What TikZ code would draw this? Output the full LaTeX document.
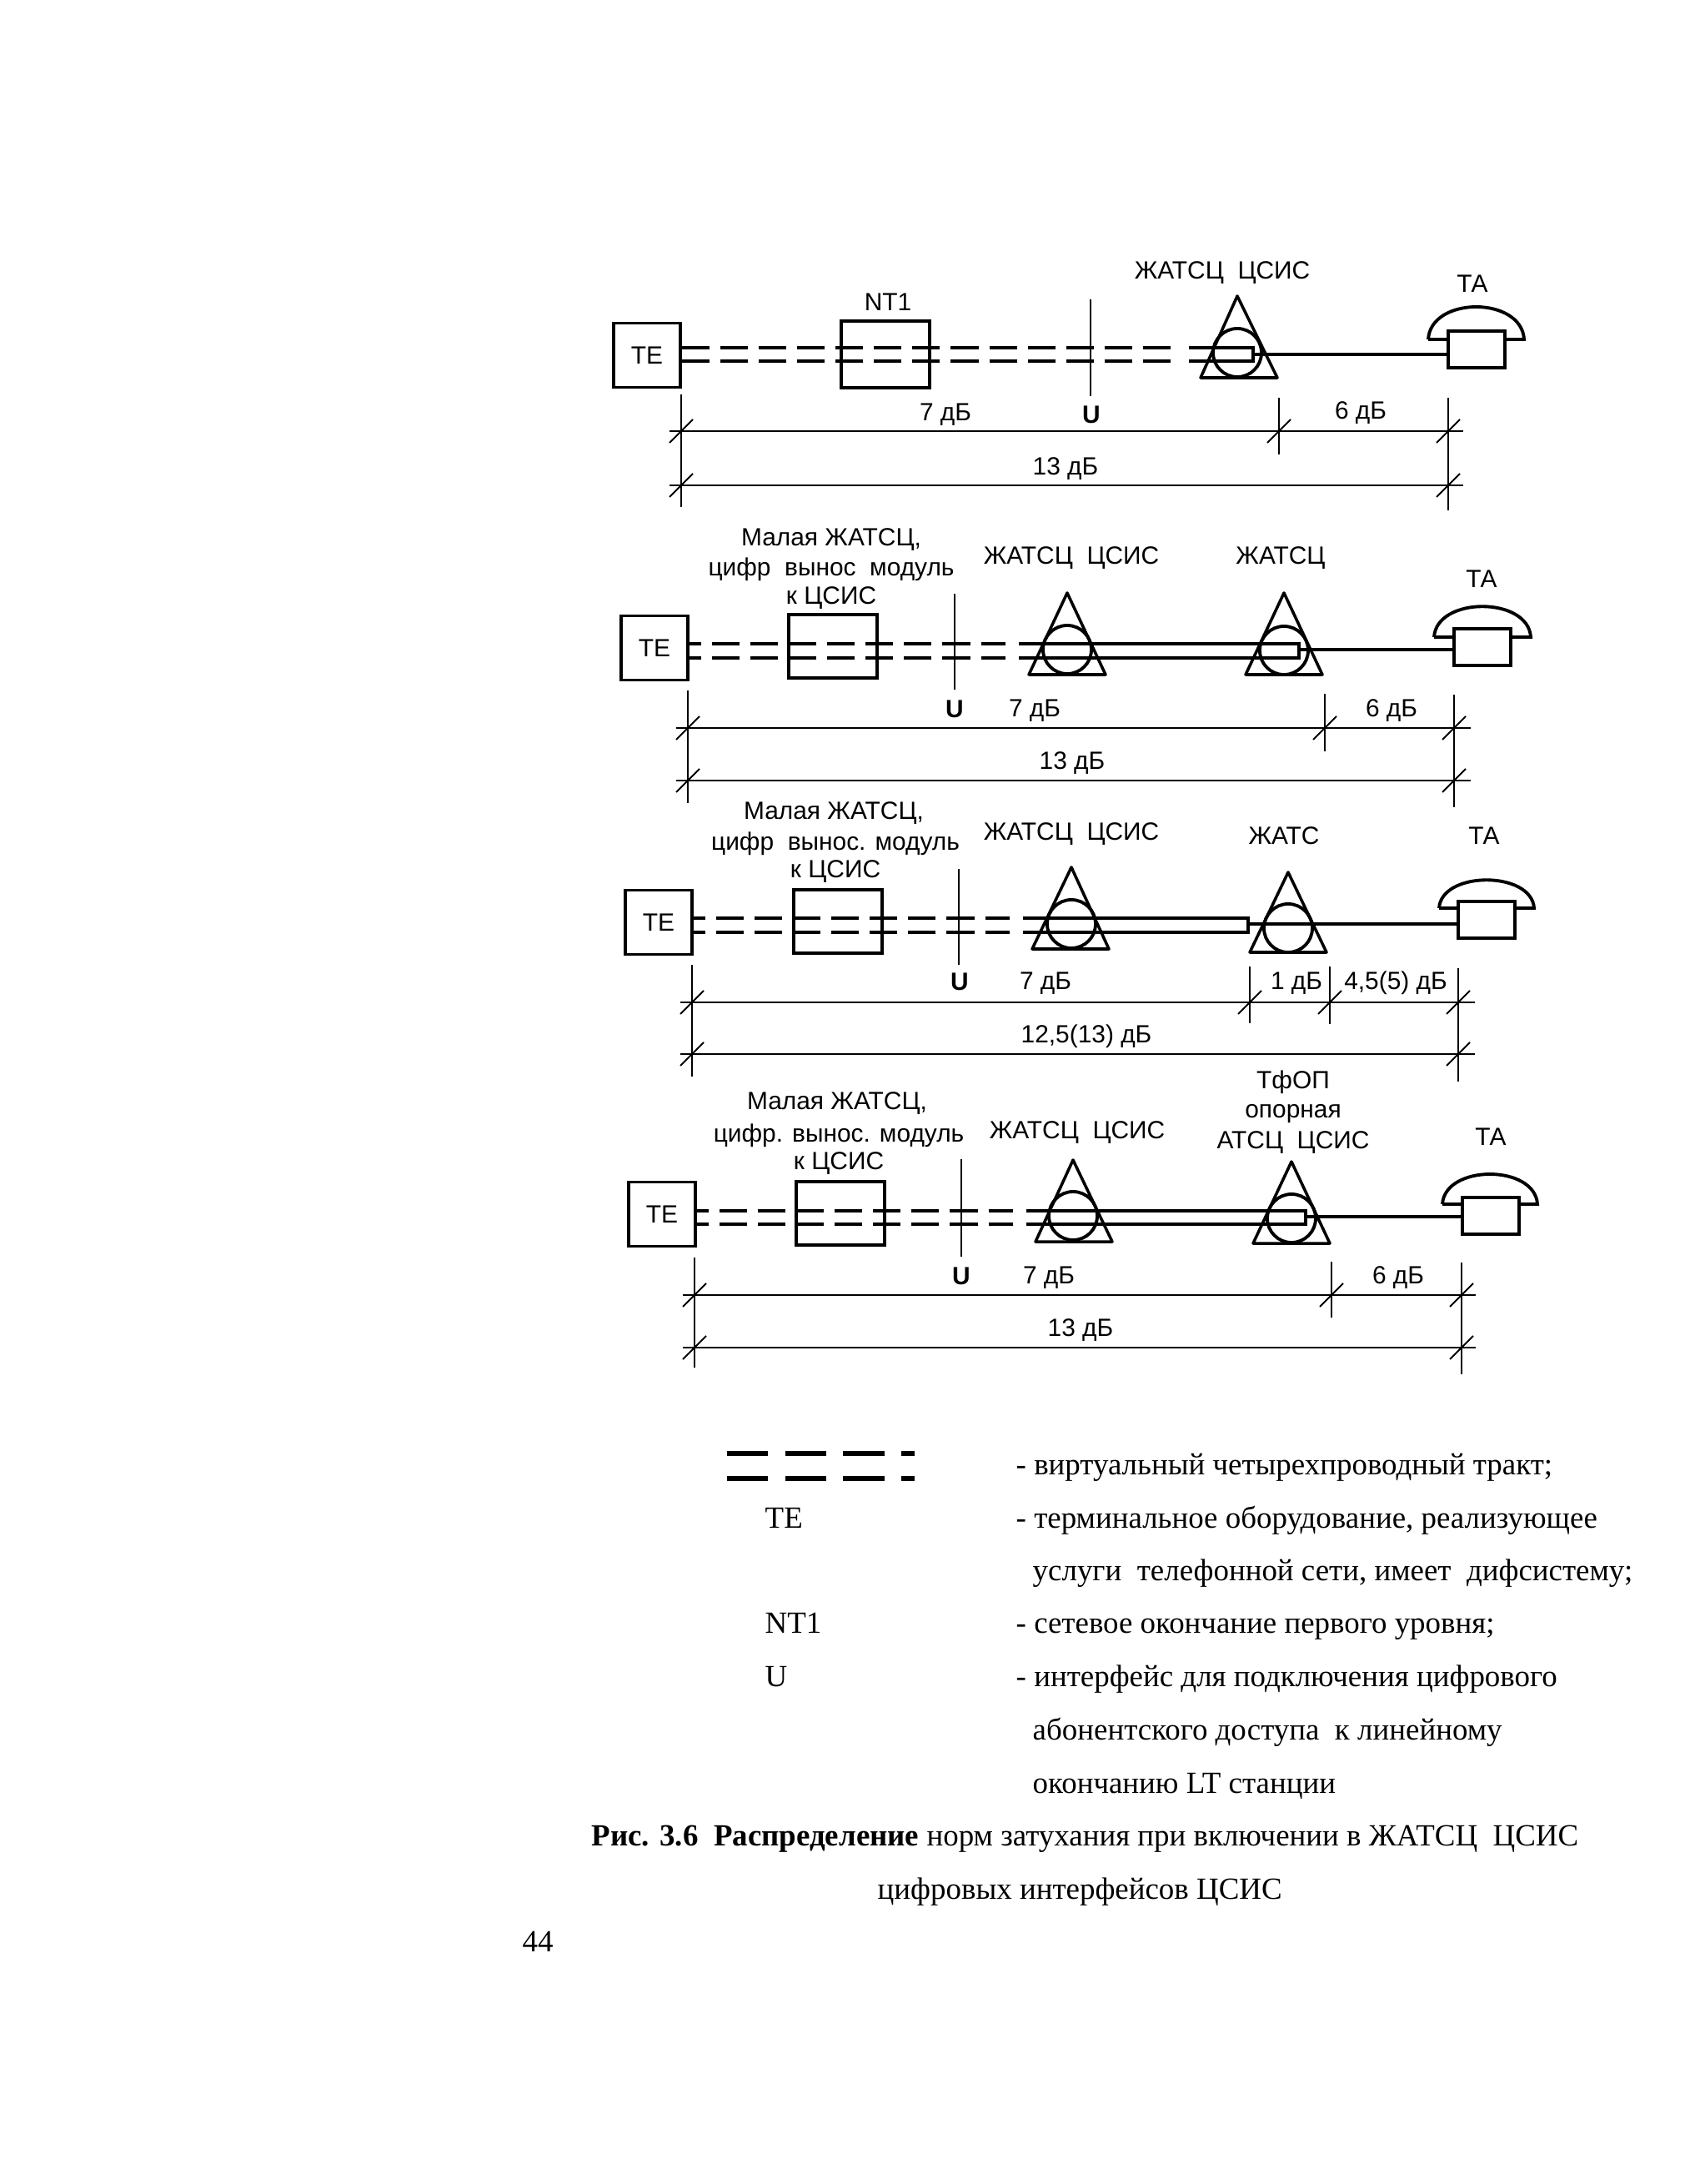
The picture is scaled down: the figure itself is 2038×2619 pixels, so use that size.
\documentclass[tikz,border=0pt]{standalone}
\usepackage{fontspec}
\setmainfont{Liberation Serif}
\newfontfamily\labelfont{Liberation Sans}
\begin{document}
\begin{tikzpicture}
[
	x=0.01cm,y=-0.01cm,
	tebox/.style={draw,line width=1.1pt,inner sep=0pt,minimum width=0.80cm,minimum height=0.77cm,font={\labelfont\fontsize{8.5}{10}\selectfont}},
	modbox/.style={draw,line width=1.1pt,inner sep=0pt,minimum width=1.06cm,minimum height=0.76cm},
	tabox/.style={draw,line width=1.1pt,inner sep=0pt,minimum width=0.68cm,minimum height=0.44cm},
	unit/.style={circle,draw,line width=1.1pt,inner sep=0pt,minimum size=0.58cm},
	lbl/.style={font={\labelfont\fontsize{8.5}{10}\selectfont},inner sep=0pt,yshift=-0.02cm},
	ulbl/.style={font={\labelfont\bfseries\fontsize{8.5}{10}\selectfont},inner sep=0pt,yshift=-0.02cm},
	txt/.style={font={\fontsize{10.5}{13}\selectfont},inner sep=0pt,anchor=base west},
	tri/.style={line width=1pt,line join=round},
	tract/.style={line width=1.1pt,dash pattern=on 9.4pt off 3.7pt},
	tractb/.style={line width=1.1pt,dash pattern=on 9.4pt off 3.7pt,dash phase=5.4pt},
	wire/.style={line width=1.1pt},
	feed/.style={line width=1.1pt},
	dim/.style={line width=0.55pt}
]
	\useasboundingbox (0,0) rectangle (2038,2619);

	% first line
	\node[tebox] at (776,426) (te1) {TE};
	\node[modbox,minimum height=0.80cm] at (1062,425) (nt1) {};
	\node[lbl] at (1065,360) (nt1lbl) {NT1};
	\node[lbl] at (1466,325) (st1lbl) {ЖАТСЦ\ \ ЦСИС};
	\node[lbl] at (1766,338) (ta1lbl) {ТА};
	\node[tabox] at (1771,419) (ta1) {};
	\node[unit] at (1484,423) (st1) {};
	\draw[tri] (1484,355) -- (1440,453) -- (1532,453) -- cycle;
	\draw[feed] (1713,407) .. controls (1716,355) and (1825,355) .. (1828,407) -- (1805,407);
	\draw[feed] (1713,407) -- (1737,407);
	\coordinate (d1a) at (1407,417);
	\coordinate (d1b) at (1407,433);
	\coordinate (l1a) at (1426,417);
	\coordinate (l1b) at (1426,433);
	\coordinate (e1a) at (1503,417);
	\coordinate (e1b) at (1503,433);
	\coordinate (j1) at (1503,425);
	\draw[tract] (te1.east |- d1a) -- (d1a);
	\draw[tract] (te1.east |- d1b) -- (d1b);
	\draw[wire] (l1a) -- (e1a) -- (e1b) -- (l1b);
	\draw[feed] (j1) -- (ta1.west |- j1);
	\draw[dim] (1308,359) -- (1308,475);
	\node[ulbl] at (1309,495) (u1) {U};
	\node[lbl] at (1134,495) (a1) {7 дБ};
	\node[lbl] at (1632,493) (b1) {6 дБ};
	\node[lbl] at (1278,560) (c1) {13 дБ};
	\draw[dim] (817,473) -- (817,608);
	\draw[dim] (1534,477) -- (1534,545);
	\draw[dim] (1737,477) -- (1737,612);
	\draw[dim] (803,517) -- (1755,517);
	\draw[dim] (803,582) -- (1755,582);
	\draw[dim] (803,531) -- (831,503);
	\draw[dim] (1520,531) -- (1548,503);
	\draw[dim] (1723,531) -- (1751,503);
	\draw[dim] (803,596) -- (831,568);
	\draw[dim] (1723,596) -- (1751,568);

	% second line
	\node[tebox] at (785,777) (te2) {TE};
	\node[modbox] at (999,775) (mod2) {};
	\node[lbl] at (997,645) (m2a) {Малая ЖАТСЦ,};
	\node[lbl] at (997,681) (m2b) {цифр\ \ вынос\ \ модуль};
	\node[lbl] at (997,715) (m2c) {к ЦСИС};
	\node[lbl] at (1285,667) (st2lbl) {ЖАТСЦ\ \ ЦСИС};
	\node[lbl] at (1536,667) (sw2lbl) {ЖАТСЦ};
	\node[lbl] at (1777,692) (ta2lbl) {ТА};
	\node[tabox] at (1778,776) (ta2) {};
	\node[unit] at (1280,779) (st2) {};
	\node[unit] at (1540,780) (sw2) {};
	\draw[tri] (1280,711) -- (1234,809) -- (1326,809) -- cycle;
	\draw[tri] (1540,711) -- (1494,809) -- (1586,809) -- cycle;
	\draw[feed] (1720,764) .. controls (1723,715) and (1833,715) .. (1836,764) -- (1812,764);
	\draw[feed] (1720,764) -- (1744,764);
	\coordinate (d2a) at (1206,772);
	\coordinate (d2b) at (1206,789);
	\coordinate (l2a) at (1222,772);
	\coordinate (l2b) at (1222,789);
	\coordinate (e2a) at (1558,772);
	\coordinate (e2b) at (1558,789);
	\coordinate (j2) at (1558,779);
	\draw[tractb] (te2.east |- d2a) -- (d2a);
	\draw[tractb] (te2.east |- d2b) -- (d2b);
	\draw[wire] (l2a) -- (e2a) -- (e2b) -- (l2b);
	\draw[feed] (j2) -- (ta2.west |- j2);
	\draw[dim] (1145,712) -- (1145,827);
	\node[ulbl] at (1145,848) (u2) {U};
	\node[lbl] at (1241,850) (a2) {7 дБ};
	\node[lbl] at (1669,850) (b2) {6 дБ};
	\node[lbl] at (1286,913) (c2) {13 дБ};
	\draw[dim] (825,828) -- (825,963);
	\draw[dim] (1589,832) -- (1589,901);
	\draw[dim] (1744,833) -- (1744,968);
	\draw[dim] (811,873) -- (1764,873);
	\draw[dim] (811,936) -- (1764,936);
	\draw[dim] (811,887) -- (839,859);
	\draw[dim] (1575,887) -- (1603,859);
	\draw[dim] (1730,887) -- (1758,859);
	\draw[dim] (811,950) -- (839,922);
	\draw[dim] (1730,950) -- (1758,922);

	% third line
	\node[tebox] at (790,1106) (te3) {TE};
	\node[modbox] at (1005,1105) (mod3) {};
	\node[lbl] at (1000,973) (m3a) {Малая ЖАТСЦ,};
	\node[lbl] at (1002,1010) (m3b) {цифр\ \ вынос. модуль};
	\node[lbl] at (1002,1043) (m3c) {к ЦСИС};
	\node[lbl] at (1285,998) (st3lbl) {ЖАТСЦ\ \ ЦСИС};
	\node[lbl] at (1540,1000) (sw3lbl) {ЖАТС};
	\node[lbl] at (1780,1000) (ta3lbl) {ТА};
	\node[tabox] at (1783,1103) (ta3) {};
	\node[unit] at (1285,1108) (st3) {};
	\node[unit] at (1545,1113) (sw3) {};
	\draw[tri] (1285,1040) -- (1238,1138) -- (1330,1138) -- cycle;
	\draw[tri] (1545,1046) -- (1499,1142) -- (1591,1142) -- cycle;
	\draw[feed] (1726,1089) .. controls (1729,1044) and (1837,1044) .. (1840,1089) -- (1817,1089);
	\draw[feed] (1726,1089) -- (1749,1089);
	\coordinate (d3a) at (1211,1101);
	\coordinate (d3b) at (1211,1118);
	\coordinate (l3a) at (1227,1101);
	\coordinate (l3b) at (1227,1118);
	\coordinate (e3a) at (1497,1101);
	\coordinate (e3b) at (1497,1118);
	\coordinate (j3) at (1499,1108);
	\draw[tractb] (te3.east |- d3a) -- (d3a);
	\draw[tractb] (te3.east |- d3b) -- (d3b);
	\draw[wire] (l3a) -- (e3a) -- (e3b) -- (l3b);
	\draw[feed] (j3) -- (ta3.west |- j3);
	\draw[dim] (1150,1042) -- (1150,1157);
	\node[ulbl] at (1151,1175) (u3) {U};
	\node[lbl] at (1254,1177) (a3) {7 дБ};
	\node[lbl] at (1555,1177) (b3) {1 дБ};
	\node[lbl] at (1674,1177) (g3) {4,5(5) дБ};
	\node[lbl] at (1303,1241) (c3) {12,5(13) дБ};
	\draw[dim] (830,1157) -- (830,1291);
	\draw[dim] (1499,1159) -- (1499,1227);
	\draw[dim] (1595,1159) -- (1595,1228);
	\draw[dim] (1749,1161) -- (1749,1297);
	\draw[dim] (816,1202) -- (1769,1202);
	\draw[dim] (816,1264) -- (1769,1264);
	\draw[dim] (816,1216) -- (844,1188);
	\draw[dim] (1485,1216) -- (1513,1188);
	\draw[dim] (1581,1216) -- (1609,1188);
	\draw[dim] (1735,1216) -- (1763,1188);
	\draw[dim] (816,1278) -- (844,1250);
	\draw[dim] (1735,1278) -- (1763,1250);

	% fourth line
	\node[tebox] at (794,1456) (te4) {TE};
	\node[modbox] at (1008,1455) (mod4) {};
	\node[lbl] at (1004,1321) (m4a) {Малая ЖАТСЦ,};
	\node[lbl] at (1006,1360) (m4b) {цифр. вынос. модуль};
	\node[lbl] at (1006,1393) (m4c) {к ЦСИС};
	\node[lbl] at (1292,1356) (st4lbl) {ЖАТСЦ\ \ ЦСИС};
	\node[lbl] at (1551,1296) (sw4a) {ТфОП};
	\node[lbl] at (1551,1334) (sw4b) {опорная};
	\node[lbl] at (1551,1368) (sw4c) {АТСЦ\ \ ЦСИС};
	\node[lbl] at (1788,1361) (ta4lbl) {ТА};
	\node[tabox] at (1788,1458) (ta4) {};
	\node[unit] at (1287,1458) (st4) {};
	\node[unit] at (1549,1461) (sw4) {};
	\draw[tri] (1287,1391) -- (1242,1489) -- (1334,1489) -- cycle;
	\draw[tri] (1549,1393) -- (1503,1491) -- (1595,1491) -- cycle;
	\draw[feed] (1730,1444) .. controls (1733,1396) and (1841,1396) .. (1844,1444) -- (1822,1444);
	\draw[feed] (1730,1444) -- (1753,1444);
	\coordinate (d4a) at (1215,1452);
	\coordinate (d4b) at (1215,1468);
	\coordinate (l4a) at (1231,1452);
	\coordinate (l4b) at (1231,1468);
	\coordinate (e4a) at (1566,1452);
	\coordinate (e4b) at (1566,1468);
	\coordinate (j4) at (1566,1459);
	\draw[tractb] (te4.east |- d4a) -- (d4a);
	\draw[tractb] (te4.east |- d4b) -- (d4b);
	\draw[wire] (l4a) -- (e4a) -- (e4b) -- (l4b);
	\draw[feed] (j4) -- (ta4.west |- j4);
	\draw[dim] (1153,1390) -- (1153,1507);
	\node[ulbl] at (1153,1528) (u4) {U};
	\node[lbl] at (1258,1530) (a4) {7 дБ};
	\node[lbl] at (1677,1530) (b4) {6 дБ};
	\node[lbl] at (1296,1593) (c4) {13 дБ};
	\draw[dim] (833,1508) -- (833,1640);
	\draw[dim] (1597,1513) -- (1597,1580);
	\draw[dim] (1753,1514) -- (1753,1648);
	\draw[dim] (819,1553) -- (1770,1553);
	\draw[dim] (819,1616) -- (1770,1616);
	\draw[dim] (819,1567) -- (847,1539);
	\draw[dim] (1583,1567) -- (1611,1539);
	\draw[dim] (1739,1567) -- (1767,1539);
	\draw[dim] (819,1630) -- (847,1602);
	\draw[dim] (1739,1630) -- (1767,1602);

	% legend
	\coordinate (k1a) at (872,1743);
	\coordinate (k1b) at (1097,1743);
	\coordinate (k2a) at (872,1773);
	\coordinate (k2b) at (1097,1773);
	\draw[line width=1.6pt,dash pattern=on 14pt off 5.8pt] (k1a) -- (k1b);
	\draw[line width=1.6pt,dash pattern=on 14pt off 5.8pt] (k2a) -- (k2b);
	\node[txt] at (917,1832) (keyte) {TE};
	\node[txt] at (917,1958) (keynt) {NT1};
	\node[txt] at (917,2022) (keyu) {U};
	\node[txt] at (1218,1768) (t1) {- виртуальный четырехпроводный тракт;};
	\node[txt] at (1218,1832) (t2) {- терминальное оборудование, реализующее};
	\node[txt] at (1238,1895) (t3) {услуги\ \ телефонной сети, имеет\ \ дифсистему;};
	\node[txt] at (1218,1958) (t4) {- сетевое окончание первого уровня;};
	\node[txt] at (1218,2022) (t5) {- интерфейс для подключения цифрового};
	\node[txt] at (1238,2086) (t6) {абонентского доступа\ \ к линейному};
	\node[txt] at (1238,2150) (t7) {окончанию LT станции};
	\node[txt] at (709,2213) (cap1) {\textbf{Рис. 3.6\ \ Распределение} норм затухания при включении в ЖАТСЦ\ \ ЦСИС};
	\node[txt] at (1052,2277) (cap2) {цифровых интерфейсов ЦСИС};
	\node[txt] at (626,2340) (page) {44};

\end{tikzpicture}
\end{document}
